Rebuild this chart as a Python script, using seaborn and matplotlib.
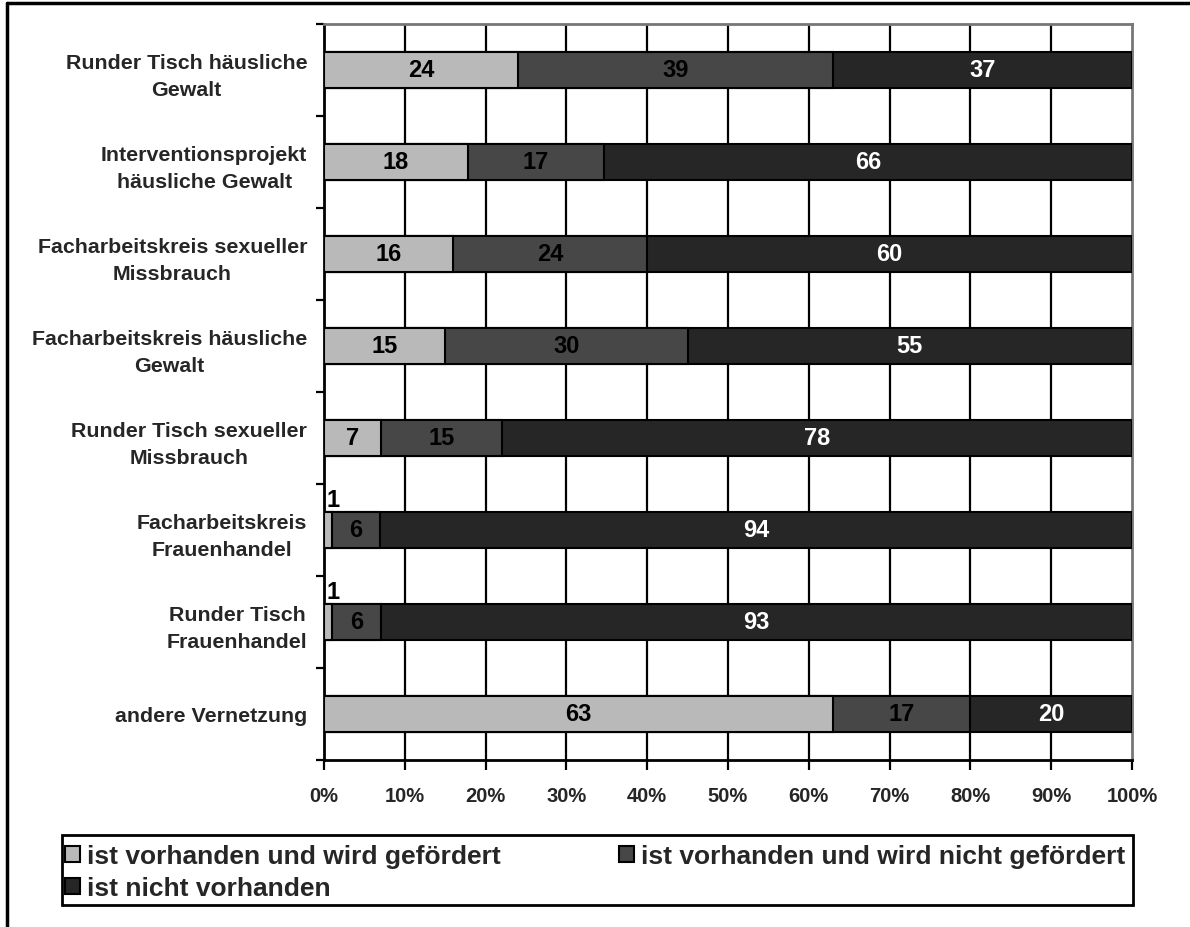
import numpy as np
import pandas as pd
import matplotlib
matplotlib.use("Agg")
import matplotlib.pyplot as plt
import seaborn as sns
from matplotlib.patches import Patch, Rectangle
from matplotlib.lines import Line2D

# Daten
kategorien = [
    "Runder Tisch häusliche\nGewalt",
    "Interventionsprojekt\nhäusliche Gewalt",
    "Facharbeitskreis sexueller\nMissbrauch",
    "Facharbeitskreis häusliche\nGewalt",
    "Runder Tisch sexueller\nMissbrauch",
    "Facharbeitskreis\nFrauenhandel",
    "Runder Tisch\nFrauenhandel",
    "andere Vernetzung",
]
gefoerdert = [24, 18, 16, 15, 7, 1, 1, 63]
nicht_gefoerdert = [39, 17, 24, 30, 15, 6, 6, 17]
nicht_vorhanden = [37, 66, 60, 55, 78, 94, 93, 20]
serien = ["ist vorhanden und wird gefördert",
          "ist vorhanden und wird nicht gefördert",
          "ist nicht vorhanden"]
farben = ["#b9b9b9", "#474747", "#262626"]

sns.set_theme(style="white")
plt.rcParams["font.family"] = ["Liberation Sans", "DejaVu Sans"]
plt.rcParams["font.weight"] = "bold"

df = pd.DataFrame({"kat": kategorien, "a": gefoerdert,
                   "b": nicht_gefoerdert, "c": nicht_vorhanden})
summe = df[["a", "b", "c"]].sum(axis=1)
for s in ["a", "b", "c"]:
    df[s + "_p"] = df[s] / summe * 100
df["cum_a"] = df["a_p"]
df["cum_b"] = df["a_p"] + df["b_p"]
df["cum_c"] = df["cum_b"] + df["c_p"]

W, H = 1190, 928
fig = plt.figure(figsize=(W / 100, H / 100), dpi=100)
ax = fig.add_axes([324 / W, 1 - 761 / H, (1132 - 324) / W, (761 - 25) / H])

# gestapelte Balken: größte Summe zuerst, darüber die kleineren
for col, farbe in zip(["cum_c", "cum_b", "cum_a"], farben[::-1]):
    sns.barplot(data=df, x=col, y="kat", orient="h", color=farbe,
                width=0.4, edgecolor="black", linewidth=1.5,
                saturation=1, ax=ax, zorder=3)

ax.set_xlim(0, 100)
ax.set_ylim(7.5, -0.5)
ax.set_xlabel("")
ax.set_ylabel("")

# Gitter
ax.set_xticks(np.arange(0, 101, 10))
ax.set_xticklabels([f"{v}%" for v in range(0, 101, 10)], fontsize=14.5, fontweight="bold")
for v in range(10, 100, 10):
    ax.axvline(v, color="black", lw=1.6, zorder=1)
ax.tick_params(axis="x", bottom=True, direction="out", length=7, width=1.6,
               color="black", pad=12)

ax.set_yticks(range(len(kategorien)))
ax.set_yticklabels(kategorien, fontsize=15.4, fontweight="bold",
                   multialignment="center", linespacing=1.55)
ax.tick_params(axis="y", which="major", left=False, length=0, pad=12)
ax.set_yticks(np.arange(-0.5, 8, 1), minor=True)
ax.tick_params(axis="y", which="minor", left=True, direction="out", length=6,
               width=1.6, color="black")

for side in ["left", "bottom"]:
    ax.spines[side].set_color("black")
    ax.spines[side].set_linewidth(2)
for side in ["top", "right"]:
    ax.spines[side].set_color("#777777")
    ax.spines[side].set_linewidth(2)
    ax.spines[side].set_visible(True)

# Beschriftungen
for i in range(len(df)):
    werte = [df.loc[i, "a"], df.loc[i, "b"], df.loc[i, "c"]]
    starts = [0, df.loc[i, "cum_a"], df.loc[i, "cum_b"]]
    breiten = [df.loc[i, "a_p"], df.loc[i, "b_p"], df.loc[i, "c_p"]]
    for j in range(3):
        tc = "white" if j == 2 else "black"
        if breiten[j] < 3:
            ax.text(starts[j] + 0.3, i - 0.33, str(werte[j]), ha="left", va="center",
                    fontsize=17, fontweight="bold", color="black", zorder=5)
        else:
            ax.text(starts[j] + breiten[j] / 2, i, str(werte[j]), ha="center",
                    va="center", fontsize=17, fontweight="bold", color=tc, zorder=5)

# Legende: zwei Spalten als getrennte Legenden, Rahmen separat
handles = [Patch(facecolor=f, edgecolor="black", linewidth=1.5) for f in farben]
leg_kw = dict(frameon=False, prop={"size": 19, "weight": "bold"},
              handlelength=0.55, handleheight=0.55, handletextpad=0.28,
              borderaxespad=0, borderpad=0, labelspacing=0.3, loc="upper left")
leg1 = fig.legend([handles[0], handles[2]], [serien[0], serien[2]],
                  bbox_to_anchor=(65 / W, 1 - 845 / H), **leg_kw)
leg2 = fig.legend([handles[1]], [serien[1]],
                  bbox_to_anchor=(619 / W, 1 - 845 / H), **leg_kw)
fig.add_artist(Rectangle((62 / W, 1 - 906 / H), (1133 - 62) / W, (906 - 836) / H,
                         transform=fig.transFigure, fill=False,
                         edgecolor="black", lw=2))

# äußerer Rahmen
fig.add_artist(Line2D([7 / W, 1], [1 - 4 / H, 1 - 4 / H], color="black", lw=2.5,
                      transform=fig.transFigure))
fig.add_artist(Line2D([7 / W, 7 / W], [0, 1 - 4 / H], color="black", lw=2.5,
                      transform=fig.transFigure))

fig.savefig("out.png", dpi=100)
